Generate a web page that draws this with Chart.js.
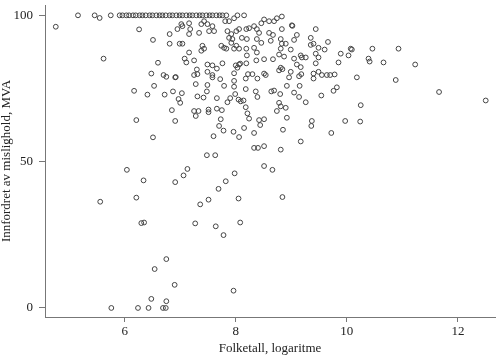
<!DOCTYPE html>
<html>
<head>
<meta charset="utf-8">
<script src="https://cdn.jsdelivr.net/npm/chart.js@4.4.1/dist/chart.umd.min.js"></script>
<style>
  html, body { margin: 0; padding: 0; background: #fff; }
</style>
</head>
<body>
<canvas id="scatter" width="500" height="355"></canvas>
<script>
// kommuner: [folketall (logaritme), innfordret av mislighold (MVA, prosent)]
const fullInnfordret = [
    [5.16,100],[5.46,100],[5.55,99.1],[5.75,100],
    [5.91,100],[5.96,100],[6.03,100],[6.08,100],[6.15,100],[6.20,100],[6.27,100],[6.32,100],[6.38,100],[6.45,100],
    [6.50,100],[6.57,100],[6.63,100],[6.68,100],[6.74,100],[6.81,100],[6.86,100],[6.93,100],[6.99,100],[7.04,100],
    [7.11,100],[7.17,100],[7.22,100],[7.29,100],[7.35,100],[7.40,100],[7.47,100],[7.53,100],[7.58,100],[7.65,100],
    [7.71,100],[7.76,100],[7.83,100],[8.03,100],[8.15,100],
    [7.97,99.0],[7.88,98.0],[7.81,98.0]
];

const smaKommuner = [
    [4.76,96.1],[6.26,95.2],[6.51,91.6],[5.62,85.2],[6.60,83.8],
    [6.48,80.1],[6.70,79.6],[6.75,79.0],[6.91,78.8],[6.92,78.9],[6.53,75.9],[6.17,74.2],[6.41,72.9],[6.72,72.9],[6.87,74.0],
    [7.03,73.4],[6.97,71.4],[7.00,70.1],[6.85,67.6],[6.21,64.2],[6.91,63.9],[6.51,58.3],[6.04,47.2],[7.13,47.5],[7.06,45.3],
    [6.34,43.6],[6.91,43.0]
];

const ovreMidt = [
    [7.02,97.0],[7.04,96.3],[6.95,95.3],[7.16,97.3],[7.18,95.3],[7.38,97.0],[7.43,98.0],[7.49,97.0],[7.58,96.3],[7.52,94.6],
    [7.61,94.6],[7.34,94.0],[6.81,93.6],[7.16,93.6],[6.99,90.3],[7.04,90.3],[6.81,90.3],[7.16,87.3],[7.40,89.6],[7.38,87.9],
    [7.43,88.6],[7.74,89.6],[7.79,88.9],[7.83,88.6],[7.85,94.6],[7.92,93.6],[7.88,92.3],[7.94,91.9],[7.92,90.6],[8.01,94.6],
    [8.06,95.3],[8.19,95.3],[8.24,95.6],[8.11,92.3],[8.20,91.9],[8.01,89.6],[8.06,88.6],[7.97,88.6],[8.19,88.6],[8.20,86.3],
    [8.33,96.3],[8.46,97.3],[8.51,98.6],[8.60,98.0],[8.38,95.3],[8.42,94.0],[8.38,91.9],[8.46,90.6],[8.33,88.9],[8.38,87.3],
    [8.60,94.0],[8.63,91.3],[7.08,85.2],[7.11,83.9],[7.25,84.6],[7.76,83.6],[8.19,83.6],[8.37,84.6],[8.51,85.0],[8.67,85.0]
];

const ovreHoyre = [
    [8.69,98.0],[8.74,99.0],[8.83,99.6],[9.01,96.6],[9.02,96.4],[8.83,95.3],[8.67,93.3],[9.44,95.3],[9.10,93.3],[9.05,91.6],
    [8.81,91.9],[8.83,90.3],[8.90,90.3],[8.81,88.6],[8.99,88.3],[9.35,92.3],[9.40,90.3],[9.35,89.9],[9.49,88.9],[9.66,90.9],
    [9.60,88.3],[8.78,86.6],[8.87,85.9],[9.05,85.2],[9.17,86.3],[9.19,85.6],[9.26,85.6],[9.44,86.9],[9.49,85.6],[9.89,86.9],
    [10.03,86.3],[10.07,88.6],[10.09,88.3],[10.46,88.6],[10.39,85.2],[10.41,84.2],[10.66,83.9],[9.10,83.2],[9.44,83.6],[9.85,83.9],
    [10.93,88.6],[11.23,83.2],
    [9.78,79.8],[10.18,78.8],[10.88,77.9],[9.82,75.4],[9.76,74.2],[11.66,73.8],[12.50,70.9],[10.25,69.3],[9.97,63.9],[10.24,63.7]
];

const midten = [
    [7.30,81.5],[7.25,79.6],[7.31,79.9],[7.49,83.2],[7.58,82.9],[7.66,81.8],[7.49,80.7],[7.58,79.6],[7.58,78.8],[7.72,78.2],
    [7.28,76.5],[7.49,76.2],[7.48,74.0],[7.79,75.9],[8.00,82.9],[8.03,82.1],[8.06,83.2],[8.08,83.5],[7.97,80.2],[7.97,77.6],
    [8.18,78.4],[8.22,79.9],[8.30,79.9],[8.39,78.4],[8.51,80.1],[8.54,79.6],[8.78,81.2],[8.81,82.1],[8.84,81.6],[8.99,80.7],
    [8.96,78.8],[9.17,82.3],[9.14,79.2],[9.18,79.9],[9.40,80.1],[9.49,80.7],[9.55,79.6],[9.64,79.6],[9.70,79.6],[9.40,78.4],
    [8.92,75.9],[9.15,75.9],[7.97,75.6],[8.18,74.8],[7.99,73.1],[7.31,72.3],[7.42,71.9],[7.66,71.7],[7.90,71.7],[7.85,70.3],
    [8.05,71.2],[8.09,70.6],[8.14,70.9],[8.36,74.0],[8.39,72.1],[8.64,74.0],[8.69,74.3],[8.80,73.1],[9.05,73.6],[9.14,72.1],
    [9.26,70.3],[9.54,72.6],[8.78,70.1],[8.81,68.9],[8.74,67.3],[8.90,68.4],[7.25,67.3],[7.33,67.3],[7.28,65.6],[7.51,67.8],
    [7.51,66.9],[7.66,68.1],[7.75,67.6],[8.18,68.6],[8.21,66.5],[8.24,64.7],[7.73,64.5],[8.42,64.2],[8.51,64.5],[8.92,65.0],
    [7.70,62.2],[7.78,60.6],[8.44,62.5],[8.15,61.5],[7.96,60.2],[8.06,58.4],[7.60,58.7],[8.33,59.8],[8.85,60.9],[9.37,63.9],
    [9.36,62.2],[9.72,59.8],[9.17,56.9],[8.33,54.7],[8.40,54.7],[8.51,55.3],[8.81,54.1],[7.48,52.2],[7.63,52.2],[8.51,48.5],
    [8.66,47.2],[7.98,46.0],[7.82,43.3]
];

const lavtInnfordret = [
    [5.56,36.3],[6.21,37.7],[6.30,29.0],[6.35,29.2],[6.75,16.7],[6.54,13.3],[6.90,7.9],[6.48,3.1],[6.75,2.3],
    [5.76,0],[6.24,0],[6.43,0],[6.69,0],[6.74,0],
    [7.69,40.7],[7.36,35.4],[7.51,37.0],[8.05,37.4],[8.84,37.9],[7.27,28.9],[7.64,27.9],[8.08,29.2],[7.78,24.9],[7.96,5.9]
];

const xTicks = [6, 8, 10, 12];
const yTicks = [0, 50, 100];

const punkter = [].concat(fullInnfordret, smaKommuner, ovreMidt, ovreHoyre, midten, lavtInnfordret)
    .map(p => ({ x: p[0], y: p[1] }));

const serif = { family: '"Liberation Serif", "Times New Roman", serif', size: 13, lineHeight: 1 };
const axisColor = '#777';
const textColor = '#222';

// Chart.js reserverer plass for halve etikettene i kantene; det skal vi ikke ha her
function noEdgePadding(s) {
    s.paddingTop = 0;
    s.paddingBottom = 0;
    s.paddingLeft = 0;
    s.paddingRight = 0;
}

const ctx = document.getElementById('scatter').getContext('2d');
new Chart(ctx, {
    type: 'scatter',
    data: {
        datasets: [{
            data: punkter,
            pointStyle: 'circle',
            pointRadius: 2.4,
            pointBorderWidth: 1,
            pointBorderColor: '#444',
            pointBackgroundColor: 'rgba(255,255,255,0)'
        }]
    },
    options: {
        responsive: false,
        animation: false,
        layout: { padding: { top: 0, right: 3, bottom: 0, left: 0 } },
        plugins: { legend: { display: false }, tooltip: { enabled: false } },
        scales: {
            x: {
                type: 'linear',
                min: 4.566,
                max: 12.667,
                afterBuildTicks: s => { s.ticks = xTicks.map(v => ({ value: v })); },
                afterFit: s => { s.height = 38; noEdgePadding(s); },
                grid: { drawOnChartArea: false, drawTicks: true, tickLength: 5, color: axisColor },
                border: { display: true, color: axisColor, width: 1 },
                ticks: { color: textColor, font: serif, padding: 3, maxRotation: 0 },
                title: { display: true, text: 'Folketall, logaritme', color: textColor, font: serif, padding: 0 }
            },
            y: {
                min: -3.09,
                max: 103.53,
                afterBuildTicks: s => { s.ticks = yTicks.map(v => ({ value: v })); },
                afterFit: s => { s.width = 45; noEdgePadding(s); },
                grid: { drawOnChartArea: false, drawTicks: true, tickLength: 6, color: axisColor },
                border: { display: true, color: axisColor, width: 1 },
                ticks: { color: textColor, font: serif, padding: 6 },
                title: { display: true, text: 'Innfordret av mislighold, MVA', color: textColor, font: serif, padding: 0 }
            }
        }
    }
});
</script>
</body>
</html>
